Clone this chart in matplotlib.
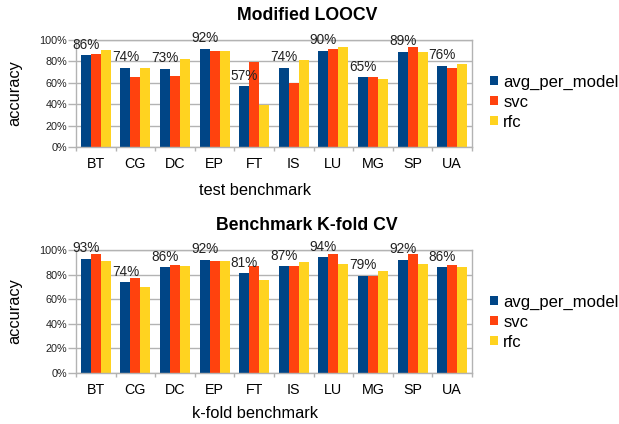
import numpy as np
import matplotlib.pyplot as plt
from matplotlib.ticker import FuncFormatter

plt.rcParams['font.family'] = ['Liberation Sans', 'DejaVu Sans']

benchmarks = ['BT', 'CG', 'DC', 'EP', 'FT', 'IS', 'LU', 'MG', 'SP', 'UA']
series_names = ['avg_per_model', 'svc', 'rfc']
colors = ['#004586', '#ff420e', '#ffd320']

# Modified LOOCV accuracy (%)
loocv_avg = [86, 74, 73, 92, 57, 74, 90, 65, 89, 76]
loocv_svc = [87, 65, 66, 90, 79, 60, 92, 65, 93, 74]
loocv_rfc = [91, 74, 82, 90, 39, 81, 93, 64, 89, 78]

# Benchmark K-fold CV accuracy (%)
kfold_avg = [93, 74, 86, 92, 81, 87, 94, 79, 92, 86]
kfold_svc = [97, 77, 88, 91, 87, 87, 97, 79, 97, 88]
kfold_rfc = [91, 70, 87, 91, 76, 90, 89, 83, 89, 86]

W, H = 619, 424
GRID = '#b3b3b3'


def px(x, y):
    """pixel position (from top-left) -> figure fraction"""
    return x / W, 1 - y / H


def draw_panel(fig, ax, values, title, title_y, xlabel, xlabel_y, legend_y):
    x = np.arange(len(benchmarks))
    width = 0.253
    for i, (vals, name, c) in enumerate(zip(values, series_names, colors)):
        ax.bar(x + (i - 1) * width, vals, width, color=c, label=name, zorder=2)
    # value labels over the first series
    for xi, v in zip(x, values[0]):
        ax.annotate(f'{v}%', (xi - width, v), xytext=(0, 2.5),
                    textcoords='offset points', ha='center', va='bottom',
                    fontsize=9.8, color='#222222')

    ax.set_xlim(-0.5, len(benchmarks) - 0.5)
    ax.set_ylim(0, 100)
    ax.set_yticks(np.arange(0, 101, 20))
    ax.yaxis.set_major_formatter(FuncFormatter(lambda v, p: f'{v:.0f}%'))
    ax.set_xticks(x)
    ax.set_xticklabels(benchmarks)
    ax.set_xticks(np.arange(-0.5, len(benchmarks)), minor=True)
    ax.tick_params(axis='x', which='major', length=0, labelsize=10.3, pad=7)
    ax.tick_params(axis='x', which='minor', length=3.2, color=GRID, width=1)
    ax.tick_params(axis='y', length=5.5, color=GRID, width=1, labelsize=7.8,
                   pad=1, labelcolor='#222222')
    ax.grid(axis='y', color=GRID, linewidth=1, zorder=0)
    for s in ax.spines.values():
        s.set_color(GRID)
        s.set_linewidth(1)
    ax.set_axisbelow(True)

    fig.text(*px(307, title_y), title, fontsize=12.7, fontweight='bold',
             ha='center', va='baseline')
    fig.text(*px(255, xlabel_y), xlabel, fontsize=11.8, ha='center',
             va='baseline')
    pos = ax.get_position()
    fig.text(15 / W, (pos.y0 + pos.y1) / 2, 'accuracy', fontsize=11.8,
             rotation=90, ha='center', va='center')

    ax.legend(loc='center left', bbox_to_anchor=px(490, legend_y),
              bbox_transform=fig.transFigure, frameon=False,
              fontsize=12, handlelength=0.5, handleheight=0.5,
              handletextpad=0.3, labelspacing=0.3, borderaxespad=0,
              borderpad=0)


fig = plt.figure(figsize=(W / 100, H / 100), dpi=100)
ax1 = fig.add_axes([76 / W, (H - 147) / H, 396 / W, 107 / H])
ax2 = fig.add_axes([76 / W, (H - 373) / H, 396 / W, 123 / H])

draw_panel(fig, ax1, [loocv_avg, loocv_svc, loocv_rfc], 'Modified LOOCV', 20,
           'test benchmark', 195, 102)
draw_panel(fig, ax2, [kfold_avg, kfold_svc, kfold_rfc], 'Benchmark K-fold CV',
           230, 'k-fold benchmark', 418, 322)

fig.savefig('out.png', dpi=100)
